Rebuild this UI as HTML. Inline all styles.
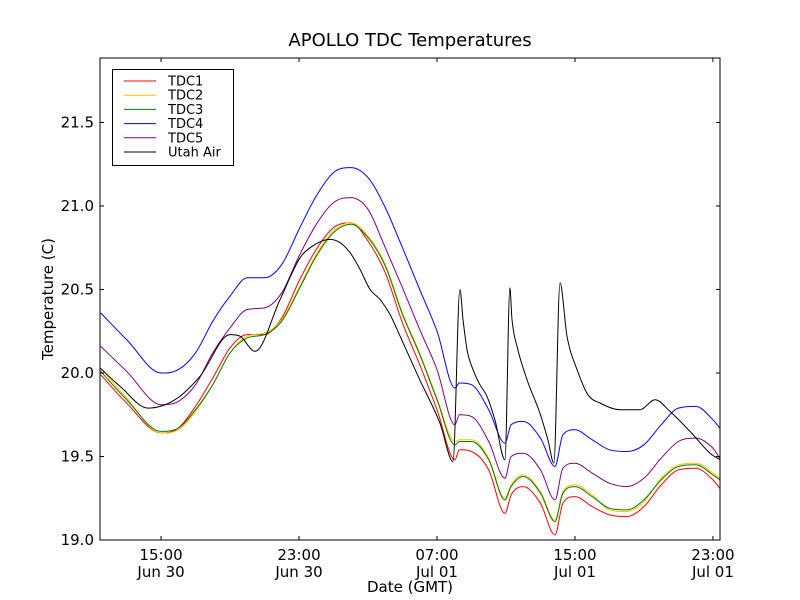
<!DOCTYPE html>
<html><head><meta charset="utf-8"><style>
body{margin:0;background:#fff}
svg{display:block;font-family:"DejaVu Sans","Liberation Sans",sans-serif}
</style></head><body>
<svg id="chart" width="800" height="600" viewBox="0 0 800 600" xmlns="http://www.w3.org/2000/svg">
<rect x="0" y="0" width="800" height="600" fill="#fff"/>
<text x="410" y="46" font-size="18" text-anchor="middle">APOLLO TDC Temperatures</text>
<g id="plot"></g>
<text x="410" y="592" font-size="15" text-anchor="middle">Date (GMT)</text>
<text x="53" y="299" font-size="15" text-anchor="middle" transform="rotate(-90 53 299)">Temperature (C)</text>
</svg>
<script>
const tTdc = [11.5,13,15,16,17,18,19,20,21,22,23,24,25,26,27,28,29,30,31,32.04,32.3,33,34,34.94,35.3,36,37,37.84,38.3,39,40,41,42,43,44,45,46,47,47.4];
const tdc1 = [19.99,19.82,19.64,19.67,19.80,19.97,20.15,20.23,20.23,20.33,20.55,20.74,20.87,20.90,20.79,20.60,20.30,20.05,19.78,19.48,19.54,19.53,19.42,19.16,19.27,19.32,19.22,19.03,19.22,19.26,19.20,19.15,19.14,19.20,19.33,19.42,19.43,19.36,19.31];
const tdc2 = [20.03,19.85,19.64,19.66,19.77,19.93,20.12,20.22,20.24,20.32,20.51,20.71,20.85,20.90,20.82,20.65,20.36,20.12,19.85,19.59,19.60,19.60,19.49,19.25,19.33,19.39,19.29,19.12,19.29,19.33,19.27,19.18,19.17,19.23,19.37,19.45,19.46,19.40,19.37];
const tdc3 = [20.01,19.84,19.65,19.67,19.78,19.93,20.12,20.21,20.23,20.31,20.50,20.70,20.84,20.89,20.81,20.64,20.35,20.11,19.84,19.57,19.59,19.59,19.48,19.24,19.32,19.38,19.28,19.11,19.28,19.32,19.26,19.19,19.18,19.24,19.36,19.44,19.45,19.39,19.36];
const tdc4 = [20.36,20.20,20.00,20.02,20.12,20.31,20.46,20.57,20.57,20.65,20.86,21.06,21.20,21.23,21.17,20.99,20.75,20.50,20.25,19.91,19.94,19.93,19.78,19.58,19.69,19.71,19.61,19.44,19.63,19.66,19.60,19.54,19.53,19.57,19.69,19.79,19.80,19.72,19.67];
const tdc5 = [20.16,20.01,19.81,19.83,19.93,20.12,20.27,20.38,20.39,20.48,20.70,20.89,21.02,21.05,20.98,20.75,20.51,20.26,20.02,19.69,19.75,19.74,19.59,19.37,19.50,19.52,19.42,19.24,19.43,19.46,19.40,19.34,19.32,19.37,19.49,19.59,19.61,19.55,19.49];
const tAir = [11.46,12.62,14.25,15.81,17.26,19.0,19.58,20.45,21.9,23.06,23.64,24.8,25.38,25.96,26.54,27.12,27.7,28.28,28.86,30.0,31.17,31.93,32.33,32.51,32.74,33.09,33.49,33.9,34.36,34.94,35.23,35.35,35.64,36.22,36.97,37.43,37.78,38.13,38.54,39.12,39.75,40.45,41.61,42.77,43.64,44.51,45.67,46.83,47.41];
const air = [20.03,19.92,19.79,19.84,19.98,20.23,20.22,20.13,20.44,20.69,20.75,20.80,20.78,20.72,20.62,20.50,20.44,20.35,20.22,19.96,19.70,19.47,20.50,20.32,20.14,20.02,19.93,19.86,19.72,19.48,20.51,20.32,20.16,19.96,19.76,19.60,19.46,20.54,20.22,20.02,19.87,19.82,19.78,19.78,19.84,19.77,19.65,19.52,19.48];
const yTicks = [19.0,19.5,20.0,20.5,21.0,21.5];
const xTicks = [15,23,31,39,47];
const xTickTimes = ["15:00","23:00","07:00","15:00","23:00"];
const xTickDates = ["Jun 30","Jun 30","Jul 01","Jul 01","Jul 01"];
const seriesNames = ["TDC1","TDC2","TDC3","TDC4","TDC5","Utah Air"];
const seriesColors = ["red","#ffbf00","green","blue","purple","black"];

const L=100,R=720,T=58,B=540;
const X0=11.46,X1=47.41,Y0=19.0,Y1=21.886;
const sx=h=>L+(h-X0)/(X1-X0)*(R-L);
const sy=v=>B-(v-Y0)/(Y1-Y0)*(B-T);
const NS="http://www.w3.org/2000/svg";
const plot=document.getElementById('plot');
function mk(tag,attrs,parent){const e=document.createElementNS(NS,tag);for(const k in attrs)e.setAttribute(k,attrs[k]);(parent||plot).appendChild(e);return e;}

function monotonePath(xs,ys){
  const n=xs.length, d=[], m=new Array(n);
  for(let i=0;i<n-1;i++) d.push((ys[i+1]-ys[i])/(xs[i+1]-xs[i]));
  m[0]=d[0]; m[n-1]=d[n-2];
  for(let i=1;i<n-1;i++){ m[i]=(d[i-1]*d[i]<=0)?0:(d[i-1]+d[i])/2; }
  for(let i=0;i<n-1;i++){
    if(d[i]===0){m[i]=0;m[i+1]=0;continue;}
    const a=m[i]/d[i], b=m[i+1]/d[i], s=a*a+b*b;
    if(s>9){const t=3/Math.sqrt(s);m[i]=t*a*d[i];m[i+1]=t*b*d[i];}
  }
  let p='M'+xs[0].toFixed(1)+','+ys[0].toFixed(1);
  for(let i=0;i<n-1;i++){
    const h=(xs[i+1]-xs[i])/3;
    p+=' C'+(xs[i]+h).toFixed(1)+','+(ys[i]+m[i]*h).toFixed(1)+' '+(xs[i+1]-h).toFixed(1)+','+(ys[i+1]-m[i+1]*h).toFixed(1)+' '+xs[i+1].toFixed(1)+','+ys[i+1].toFixed(1);
  }
  return p;
}

const clip=mk('clipPath',{id:'clip'});mk('rect',{x:L,y:T,width:R-L,height:B-T},clip);
const seriesData=[[tTdc,tdc1],[tTdc,tdc2],[tTdc,tdc3],[tTdc,tdc4],[tTdc,tdc5],[tAir,air]];
seriesData.forEach((s,i)=>{
  const d=monotonePath(s[0].map(sx),s[1].map(sy));
  const p=mk('path',{d:d,fill:'none',stroke:seriesColors[i],'stroke-width':1,'clip-path':'url(#clip)'});
  
  
});
const frame=mk('rect',{x:L,y:T,width:R-L,height:B-T,fill:'none',stroke:'#000','stroke-width':1});


yTicks.forEach(v=>{
  const y=sy(v);
  mk('line',{x1:L,x2:L+4,y1:y,y2:y,stroke:'#000'});
  mk('line',{x1:R,x2:R-4,y1:y,y2:y,stroke:'#000'});
  const tx=mk('text',{x:L-6,y:y+5,'font-size':15,'text-anchor':'end'});
  tx.textContent=v.toFixed(1);
  
  
});
xTicks.forEach((h,i)=>{
  const x=sx(h);
  mk('line',{x1:x,x2:x,y1:B,y2:B-4,stroke:'#000'});
  mk('line',{x1:x,x2:x,y1:T,y2:T+4,stroke:'#000'});
  const a=mk('text',{x:x,y:B+20,'font-size':15,'text-anchor':'middle'});
  a.textContent=xTickTimes[i];
  
  
  const b=mk('text',{x:x,y:B+37,'font-size':15,'text-anchor':'middle'});
  b.textContent=xTickDates[i];
  
  
});
const lg=mk('g',{});


mk('rect',{x:112.5,y:69.5,width:121,height:96,fill:'#fff',stroke:'#000'},lg);
seriesNames.forEach((n,i)=>{
  const y=81+i*14.2;
  const ge=mk('g',{},lg);
  
  
  mk('line',{x1:124,x2:156,y1:y,y2:y,stroke:seriesColors[i]},ge);
  const t=mk('text',{x:168,y:y+4.5,'font-size':13},ge);
  t.textContent=n;
});
</script>
</body></html>
